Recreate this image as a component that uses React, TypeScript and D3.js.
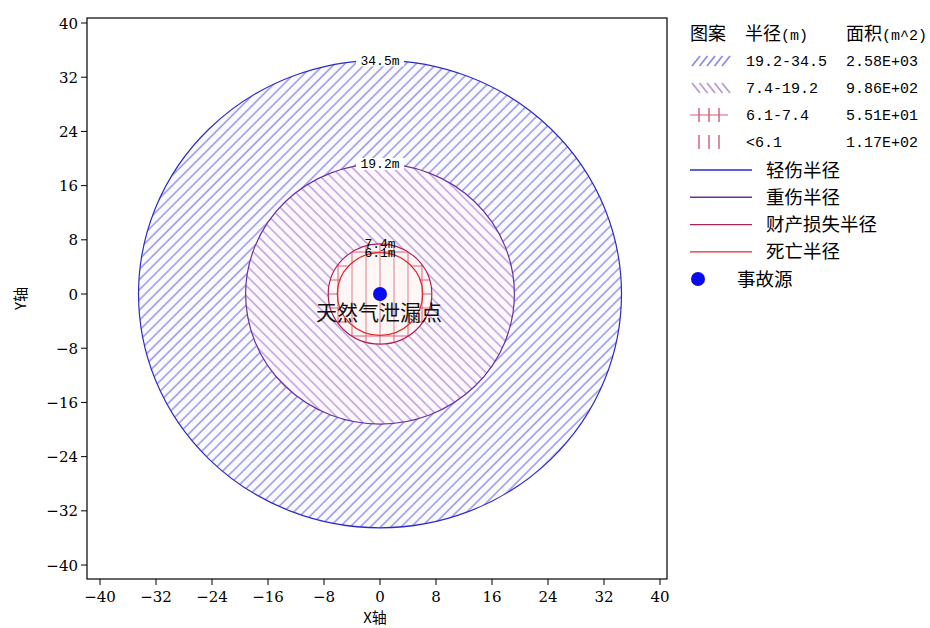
import React from "react";
import * as d3 from "d3";

// radii in metres (outer -> inner)
const radii = [34.5, 19.2, 7.4, 6.1];
const radiusLabels = ["34.5m", "19.2m", "7.4m", "6.1m"];
const ringRanges = ["19.2-34.5", "7.4-19.2", "6.1-7.4", "<6.1"];
const ringAreas = ["2.58E+03", "9.86E+02", "5.51E+01", "1.17E+02"];
const lineNames = ["轻伤半径", "重伤半径", "财产损失半径", "死亡半径"];
const xTicks = [-40, -32, -24, -16, -8, 0, 8, 16, 24, 32, 40];
const yTicks = [40, 32, 24, 16, 8, 0, -8, -16, -24, -32, -40];
const sourceName = "天然气泄漏点";

const strokeColors = ["#2b2bc8", "#6a2fa0", "#b02058", "#e02a30"];
const patternIds = ["hatchBlue", "hatchPurple", "hatchCross", "hatchVert"];

const W = 930;
const H = 628;
const plot = { left: 87, right: 667, top: 18, bottom: 579 };

const monoFont = "Liberation Mono, DejaVu Sans Mono, monospace";
const cjkFont = "Noto Sans CJK SC, sans-serif";
const tickFont = "DejaVu Serif, Liberation Serif, serif";

export default function App() {
  const x = d3.scaleLinear().domain([-41.86, 41]).range([plot.left, plot.right]);
  const y = d3.scaleLinear().domain([-42.06, 40.74]).range([plot.bottom, plot.top]);
  const cx = x(0);
  const cy = y(0);
  const rx = (r: number) => x(r) - x(0);
  const ry = (r: number) => y(0) - y(r);

  const legendX = 690;
  const rowY = (i: number) => 61 + i * 27;

  return (
    <svg width={W} height={H} style={{ position: "absolute", left: 0, top: 0, background: "#fff" }}>
      <defs>
        <pattern id="hatchBlue" patternUnits="userSpaceOnUse" width={7.2} height={10} patternTransform="rotate(45)">
          <rect width={7.2} height={10} fill="#fbfbff" />
          <line x1={1} y1={0} x2={1} y2={10} stroke="#9090e6" strokeWidth={1.4} />
        </pattern>
        <pattern id="hatchPurple" patternUnits="userSpaceOnUse" width={7.2} height={10} patternTransform="rotate(-45)">
          <rect width={7.2} height={10} fill="#fdf8ff" />
          <line x1={1} y1={0} x2={1} y2={10} stroke="#b89ad8" strokeWidth={1.4} />
        </pattern>
        <pattern id="hatchCross" patternUnits="userSpaceOnUse" width={14} height={14} x={cx - 1} y={cy - 4}>
          <rect width={14} height={14} fill="#fff6f6" />
          <line x1={1} y1={0} x2={1} y2={14} stroke="#d86078" strokeWidth={1} />
          <line x1={0} y1={4} x2={14} y2={4} stroke="#d86078" strokeWidth={1} />
        </pattern>
        <pattern id="hatchVert" patternUnits="userSpaceOnUse" width={14} height={14} x={cx - 1} y={0}>
          <rect width={14} height={14} fill="#fff6f6" />
          <line x1={1} y1={0} x2={1} y2={14} stroke="#e0808e" strokeWidth={1} />
        </pattern>
        <clipPath id="plotClip">
          <rect x={plot.left} y={plot.top} width={plot.right - plot.left} height={plot.bottom - plot.top} />
        </clipPath>
      </defs>

      <g clipPath="url(#plotClip)">
        {radii.map((r, i) => (
          <ellipse key={i} cx={cx} cy={cy} rx={rx(r)} ry={ry(r)} fill={`url(#${patternIds[i]})`} stroke="none" />
        ))}
        {radii.map((r, i) => (
          <ellipse key={"s" + i} cx={cx} cy={cy} rx={rx(r)} ry={ry(r)} fill="none" stroke={strokeColors[i]} strokeWidth={1.2} />
        ))}
        {radiusLabels.map((t, i) => {
          const ty = y(radii[i]);
          return (
            <g key={"l" + i}>
              {i < 2 && <rect x={cx - 24} y={ty - 6} width={48} height={12} fill="#fff" />}
              <text x={cx} y={ty + 4.5} textAnchor="middle" fontFamily={monoFont} fontSize={13} fill="#000">
                {t}
              </text>
            </g>
          );
        })}
        <circle cx={cx} cy={cy} r={7} fill="#0a0aee" />
        <text x={cx - 1} y={cy + 26} textAnchor="middle" fontFamily={cjkFont} fontSize={21} fill="#111">
          {sourceName}
        </text>
      </g>

      <rect x={plot.left} y={plot.top} width={plot.right - plot.left} height={plot.bottom - plot.top} fill="none" stroke="#000" strokeWidth={1.2} />

      {xTicks.map((t) => (
        <g key={"x" + t}>
          <line x1={x(t)} x2={x(t)} y1={plot.bottom} y2={plot.bottom + 6} stroke="#000" />
          <text x={x(t)} y={plot.bottom + 23} textAnchor="middle" fontFamily={tickFont} fontSize={15} fill="#000">
            {t < 0 ? "\u2212" + Math.abs(t) : t}
          </text>
        </g>
      ))}
      {yTicks.map((t) => (
        <g key={"y" + t}>
          <line x1={plot.left - 6} x2={plot.left} y1={y(t)} y2={y(t)} stroke="#000" />
          <text x={plot.left - 9} y={y(t) + 5.5} textAnchor="end" fontFamily={tickFont} fontSize={15} fill="#000">
            {t < 0 ? "\u2212" + Math.abs(t) : t}
          </text>
        </g>
      ))}
      <text x={(plot.left + plot.right) / 2 - 2} y={623} textAnchor="middle" fontFamily={cjkFont} fontSize={15} fill="#000">
        X轴
      </text>
      <text transform={`translate(26,${(plot.top + plot.bottom) / 2}) rotate(-90)`} textAnchor="middle" fontFamily={cjkFont} fontSize={15} fill="#000">
        Y轴
      </text>

      {/* legend */}
      <g>
        <text x={legendX} y={40} fontFamily={cjkFont} fontSize={18} fill="#000">图案</text>
        <text x={745} y={40} fontFamily={cjkFont} fontSize={18} fill="#000">半径</text>
        <text x={781} y={40} fontFamily={monoFont} fontSize={15} fill="#000">(m)</text>
        <text x={846} y={40} fontFamily={cjkFont} fontSize={18} fill="#000">面积</text>
        <text x={882} y={40} fontFamily={monoFont} fontSize={15} fill="#000">(m^2)</text>

        {ringRanges.map((t, i) => {
          const yy = rowY(i);
          let swatch: React.ReactNode = null;
          if (i === 0 || i === 1) {
            swatch = d3.range(5).map((k) => {
              const x0 = legendX + 2 + k * 7.5;
              return i === 0 ? (
                <line key={k} x1={x0} y1={yy + 5} x2={x0 + 8} y2={yy - 5} stroke="#8c8ce8" strokeWidth={1.8} />
              ) : (
                <line key={k} x1={x0} y1={yy - 5} x2={x0 + 8} y2={yy + 5} stroke="#b89ad8" strokeWidth={1.8} />
              );
            });
          } else {
            swatch = (
              <g>
                {i === 2 && <line x1={legendX} x2={legendX + 38} y1={yy} y2={yy} stroke="#d85a78" strokeWidth={1.2} />}
                {d3.range(3).map((k) => (
                  <line key={k} x1={legendX + 9 + k * 10} x2={legendX + 9 + k * 10} y1={yy - 7} y2={yy + 7} stroke="#d05a78" strokeWidth={1.4} />
                ))}
              </g>
            );
          }
          return (
            <g key={"rr" + i}>
              {swatch}
              <text x={746} y={yy + 5} fontFamily={monoFont} fontSize={15} fill="#000">{t}</text>
              <text x={846} y={yy + 5} fontFamily={monoFont} fontSize={15} fill="#000">{ringAreas[i]}</text>
            </g>
          );
        })}

        {lineNames.map((t, i) => {
          const yy = 170 + i * 27.3;
          return (
            <g key={"ln" + i}>
              <line x1={legendX} x2={legendX + 62} y1={yy} y2={yy} stroke={strokeColors[i]} strokeWidth={1.4} />
              <text x={766} y={yy + 6.5} fontFamily={cjkFont} fontSize={18.5} fill="#000">{t}</text>
            </g>
          );
        })}
        <circle cx={698} cy={279} r={7} fill="#0a0aee" />
        <text x={737} y={285.5} fontFamily={cjkFont} fontSize={18.5} fill="#000">事故源</text>
      </g>
    </svg>
  );
}
